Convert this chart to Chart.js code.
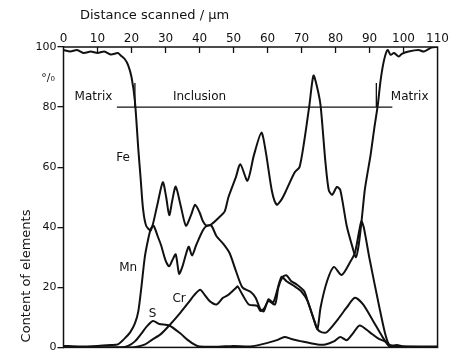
<!DOCTYPE html>
<html>
<head>
<meta charset="utf-8">
<script src="https://cdn.jsdelivr.net/npm/chart.js@4"></script>
<style>
  html, body { margin: 0; padding: 0; background: #fff; }
  #wrap { width: 450px; height: 355px; }
</style>
</head>
<body>
<div id="wrap"><canvas id="c" width="450" height="355"></canvas></div>
<script>
// ---- data (distance in µm, content in %) ----
const xTickValues = [0, 10, 20, 30, 40, 50, 60, 70, 80, 90, 100, 110];
const yTickValues = [0, 20, 40, 60, 80, 100];

const feX = [0, 2, 4, 6, 8, 10, 12, 14, 16, 17, 18, 19, 20, 21, 22, 22.7, 23.4, 24.3, 25.7, 27.5, 29.2, 30.2, 31.1, 32, 33, 34.5, 36, 37.5, 38.7, 40, 41, 42.1, 43.5, 45.5, 47.4, 48.5, 50.7, 52, 54.1, 56, 58.2, 59.5, 61.3, 62.7, 64, 65.1, 68, 69.4, 70.8, 72.3, 73.5, 74.5, 75.6, 77, 78, 79, 80.4, 81.4, 83.3, 85, 86, 86.8, 87.6, 88.6, 89.2, 90.3, 91.4, 92.4, 93.3, 94.3, 95.3, 96.2, 97.2, 98.6, 99.5, 101.5, 104.4, 106, 108.2, 110];
const feY = [99, 98.5, 99, 98, 98.5, 98, 98.5, 97.5, 98, 97, 96, 94, 90, 82, 66, 56, 46, 40.5, 39, 47, 55, 50, 44, 49, 53.5, 47, 40.5, 44, 47.5, 45, 42, 40.5, 41, 43, 45.3, 50, 56.7, 61, 55.5, 64, 71.5, 65, 52, 47.5, 49, 51.3, 58.3, 60, 68.7, 80.5, 90.5, 87, 80.5, 62, 52.4, 50.8, 53.4, 52.4, 40.4, 33.3, 30, 34, 41.5, 52.4, 56.7, 64, 73, 80.5, 89.3, 95.8, 99, 97.4, 98, 96.8, 97.7, 98.5, 99, 98.5, 99.8, 100];

const mnX = [0, 5, 10, 14, 16, 18, 19.6, 21, 22, 22.9, 23.9, 24.9, 25.7, 26.5, 27.7, 28.7, 30, 31.1, 32, 33, 34, 35, 36.8, 37.8, 39, 41, 42.2, 43.5, 45, 47, 48.8, 50.7, 52.6, 55, 56.5, 57.9, 58.9, 60.3, 61.7, 64.1, 65.6, 68, 69.9, 71.8, 73.7, 74.7, 75.6, 77.5, 79.5, 81.8, 84.3, 85.7, 87, 87.6, 88.3, 90, 92.9, 94.5, 95.7, 97, 100, 110];
const mnY = [0.5, 0.3, 0.5, 0.8, 1, 3, 5, 8, 12, 20, 30, 36, 39.5, 40.5, 37, 34, 29, 27, 29, 31, 24.5, 27, 33.5, 30.6, 34, 39, 40.5, 40.5, 37, 34.5, 31.5, 25.5, 20, 18.5, 16.5, 12.7, 12, 16, 15, 23.5, 22, 20.3, 18.7, 15.4, 9, 6.2, 13.3, 22, 26.8, 24.1, 28.4, 31.5, 39, 42, 40, 29.5, 13.3, 5, 1, 0.5, 0.3, 0.3];

const crX = [0, 20, 22, 24, 26, 28.7, 31.1, 34.4, 36.8, 38.5, 40.2, 41.5, 43, 45, 46.9, 48.5, 50.7, 51.2, 52.6, 54.5, 57, 57.9, 59, 60.3, 62.2, 63.2, 64.5, 65.6, 67, 68.5, 70.8, 71.8, 73.7, 74.7, 76, 77.5, 80.4, 83.3, 85.7, 88.1, 91, 93.8, 95.7, 97, 110];
const crY = [0, 0, 0.3, 1, 2.5, 4.5, 7.3, 11.6, 15, 17.5, 19.2, 17.5, 15.4, 14.3, 16.5, 17.5, 19.8, 20.3, 17.6, 14.3, 13.8, 12.1, 13, 15.4, 14.3, 20, 23.5, 24, 22, 21, 18.7, 15.4, 9, 6, 5, 5.1, 8.9, 13.3, 16.5, 14.3, 8.9, 3.5, 0.5, 0.2, 0];

const sX = [0, 17, 19, 21, 22.9, 24.5, 26.3, 28.2, 31.1, 34.4, 36.5, 38.7, 40, 45, 50, 55, 60, 63, 65, 67, 70, 74.7, 77, 79.5, 81.4, 83.3, 85, 87.1, 90, 92.5, 94.8, 96, 98, 100, 110];
const sY = [0, 0, 0.5, 2, 4.6, 7, 8.8, 7.8, 7.3, 4.6, 2.5, 0.8, 0.3, 0.2, 0.5, 0.3, 1.5, 2.5, 3.5, 2.8, 2, 1, 1, 2, 3.5, 2.4, 4.5, 7.3, 5.1, 3, 1.8, 0.5, 0.8, 0.3, 0];

const boundaryLineX = [15.7, 96.7];
const boundaryLineY = [80, 80];
const markerLeftX = [21, 21];
const markerRightX = [92, 92];
const markerY = [80, 88];

const curveLabels = [
  { text: 'Fe', x: 17.5, y: 63 },
  { text: 'Mn', x: 19, y: 26.5 },
  { text: 'Cr', x: 34, y: 16 },
  { text: 'S', x: 26.2, y: 11 }
];
const regionLabels = [
  { text: 'Matrix', x: 8.8, y: 83.5 },
  { text: 'Inclusion', x: 40, y: 83.5 },
  { text: 'Matrix', x: 101.8, y: 83.5 }
];
const xAxisTitle = 'Distance scanned / µm';
const yAxisTitle = 'Content of elements';
const unitLabel = '°/₀';

// ---- helpers ----
function pts(xs, ys) { return xs.map((x, i) => ({ x: x, y: ys[i] })); }
function curve(xs, ys) {
  return { data: pts(xs, ys), borderColor: '#111', borderWidth: 2, pointRadius: 0, tension: 0.25, fill: false };
}
function thin(xs, ys) {
  return { data: pts(xs, ys), borderColor: '#111', borderWidth: 1.3, pointRadius: 0, tension: 0, fill: false };
}

const FONT = 'DejaVu Sans';

const decor = {
  id: 'decor',
  afterDraw(chart) {
    const ctx = chart.ctx;
    const a = chart.chartArea;
    const xs = chart.scales.x, ys = chart.scales.y;
    ctx.save();
    // frame
    ctx.strokeStyle = '#111';
    ctx.lineWidth = 1.5;
    ctx.strokeRect(a.left, a.top, a.right - a.left, a.bottom - a.top);
    // inner ticks on top axis
    ctx.lineWidth = 1.3;
    xTickValues.forEach(v => {
      if (v === 0 || v === 110) return;
      const px = xs.getPixelForValue(v);
      ctx.beginPath();
      ctx.moveTo(px, a.top);
      ctx.lineTo(px, a.top + 6);
      ctx.stroke();
    });
    ctx.fillStyle = '#111';
    // axis titles
    ctx.font = '13px "' + FONT + '"';
    ctx.textAlign = 'left';
    ctx.textBaseline = 'middle';
    ctx.fillText(xAxisTitle, 80, 16);
    ctx.save();
    ctx.translate(27, 276);
    ctx.rotate(-Math.PI / 2);
    ctx.textAlign = 'center';
    ctx.fillText(yAxisTitle, 0, 0);
    ctx.restore();
    // unit
    ctx.font = '11px "' + FONT + '"';
    ctx.textAlign = 'center';
    ctx.fillText(unitLabel, 48, 78);
    // region labels
    ctx.font = '12px "' + FONT + '"';
    regionLabels.forEach(l => {
      ctx.fillText(l.text, xs.getPixelForValue(l.x), ys.getPixelForValue(l.y));
    });
    // curve labels
    curveLabels.forEach(l => {
      ctx.fillText(l.text, xs.getPixelForValue(l.x), ys.getPixelForValue(l.y));
    });
    ctx.restore();
  }
};

new Chart(document.getElementById('c'), {
  type: 'line',
  data: {
    datasets: [
      curve(feX, feY),
      curve(mnX, mnY),
      curve(crX, crY),
      curve(sX, sY),
      thin(boundaryLineX, boundaryLineY),
      thin(markerLeftX, markerY),
      thin(markerRightX, markerY)
    ]
  },
  options: {
    responsive: false,
    animation: false,
    devicePixelRatio: 1,
    layout: { autoPadding: false, padding: { top: 0, left: 0, right: 4, bottom: 1 } },
    plugins: { legend: { display: false }, tooltip: { enabled: false }, title: { display: false } },
    scales: {
      x: {
        type: 'linear',
        position: 'top',
        min: 0, max: 110,
        afterBuildTicks: s => { s.ticks = xTickValues.map(v => ({ value: v })); },
        ticks: { color: '#111', font: { family: FONT, size: 12 }, padding: 1, maxRotation: 0, autoSkip: false },
        grid: { display: false, drawTicks: false },
        border: { display: false },
        afterFit: s => { s.height = 47; }
      },
      y: {
        min: 0, max: 100,
        afterBuildTicks: s => { s.ticks = yTickValues.map(v => ({ value: v })); },
        ticks: { color: '#111', font: { family: FONT, size: 11 }, padding: 1 },
        grid: { drawOnChartArea: false, drawTicks: true, tickLength: 6, color: '#111', lineWidth: 1.3 },
        border: { display: false },
        afterFit: s => { s.width = 63.5; }
      }
    }
  },
  plugins: [decor]
});
</script>
</body>
</html>
